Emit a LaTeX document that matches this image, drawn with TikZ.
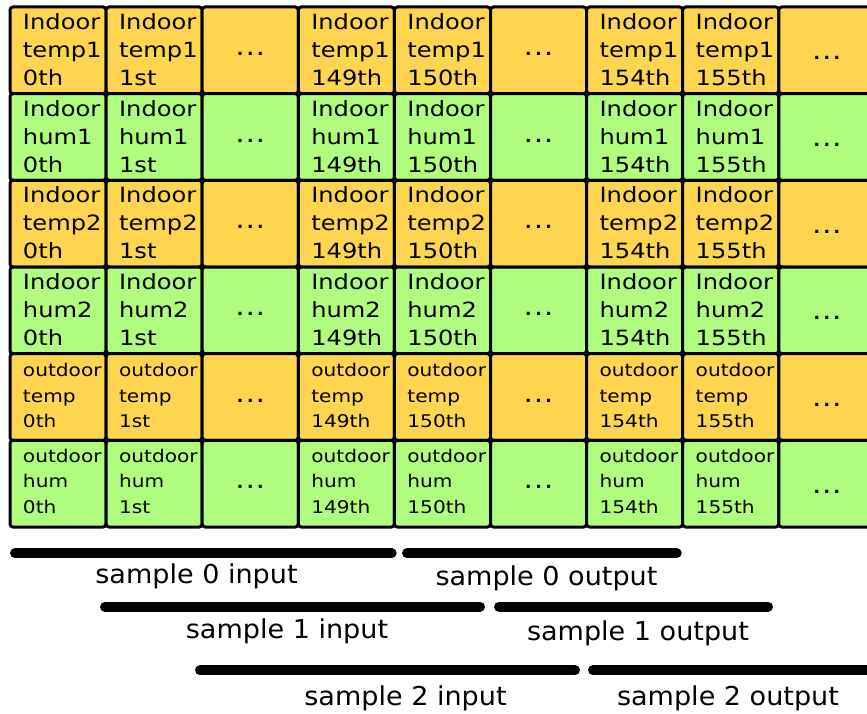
\documentclass[tikz,border=0pt]{standalone}
\usepackage{fontspec}
\newfontfamily\cellfont[FakeStretch=1.15]{DejaVu Sans}
\newfontfamily\barfont[FakeStretch=1.04]{DejaVu Sans}
\definecolor{tempfill}{HTML}{FFD54F}
\definecolor{humfill}{HTML}{B0FC7E}

\begin{document}
\begin{tikzpicture}[x=1pt,y=-1pt,
  cellbox/.style={draw=black, line width=3pt, rounded corners=3pt,
    inner sep=0pt, outer sep=0pt, minimum width=96.1pt,
    minimum height=86.67pt, anchor=north west},
  celltext/.style={inner sep=0pt, outer sep=0pt, align=left, anchor=north west},
  dotstext/.style={inner sep=0pt, outer sep=0pt, anchor=base,
    font=\cellfont\fontsize{26}{30}\selectfont},
  samplebar/.style={line width=10pt, line cap=round, draw=black},
  samplelabel/.style={inner sep=0pt, anchor=base,
    font=\barfont\fontsize{26}{30}\selectfont}
]
\useasboundingbox (0,0) rectangle (867,714);
\begin{scope}
\clip (0,0) rectangle (867,714);

% table of readings: one row per sensor, one column per time step
\foreach \r/\lab/\fc/\fs/\bs/\dy in {
    1/{Indoor\\temp1}/tempfill/21/28/6.7,
    2/{Indoor\\hum1}/humfill/21/28/6.7,
    3/{Indoor\\temp2}/tempfill/21/28/6.7,
    4/{Indoor\\hum2}/humfill/21/28/6.7,
    5/{outdoor\\temp}/tempfill/17.5/25.8/9.4,
    6/{outdoor\\hum}/humfill/17.5/25.8/8.4}{
  \foreach \c in {1,...,9}{
    \node[cellbox, fill=\fc] (c\r-\c)
      at ({10+96.1*(\c-1)}, {7+86.67*(\r-1)}) {};
  }
  \foreach \c/\ord in {1/0th,2/1st,4/149th,5/150th,7/154th,8/155th}{
    \node[celltext, font=\cellfont\fontsize{\fs}{\bs}\selectfont] (t\r-\c)
      at ([xshift=13pt, yshift=-\dy pt]c\r-\c.north west) {\lab\\\ord};
  }
  \foreach \c/\ddy in {3/5, 6/5, 9/9.5}{
    \node[dotstext] (d\r-\c) at ([yshift=-\ddy pt]c\r-\c.center)
      {.\kern0.6pt.\kern0.6pt.};
  }
}

% input/output windows of the first three samples
\coordinate (s0in-a) at (15,553.3);   \coordinate (s0in-b) at (391.7,553.3);
\coordinate (s0out-a) at (407,553.3); \coordinate (s0out-b) at (676.7,553.3);
\coordinate (s1in-a) at (105,606.7);  \coordinate (s1in-b) at (480,606.7);
\coordinate (s1out-a) at (499,606.7); \coordinate (s1out-b) at (768,606.7);
\coordinate (s2in-a) at (200,670.3);  \coordinate (s2in-b) at (575,670.3);
\coordinate (s2out-a) at (593,670.3); \coordinate (s2out-b) at (890,670.3);

\draw[samplebar] (s0in-a) -- (s0in-b);
\draw[samplebar] (s0out-a) -- (s0out-b);
\draw[samplebar] (s1in-a) -- (s1in-b);
\draw[samplebar] (s1out-a) -- (s1out-b);
\draw[samplebar] (s2in-a) -- (s2in-b);
\draw[samplebar] (s2out-a) -- (s2out-b);

\node[samplelabel] (l0in) at (196.5,583.3) {sample 0 input};
\node[samplelabel] (l0out) at (546.5,585) {sample 0 output};
\node[samplelabel] (l1in) at (287,638.3) {sample 1 input};
\node[samplelabel] (l1out) at (638,640) {sample 1 output};
\node[samplelabel] (l2in) at (405.5,705) {sample 2 input};
\node[samplelabel] (l2out) at (728,705) {sample 2 output};
\end{scope}
\end{tikzpicture}
\end{document}
